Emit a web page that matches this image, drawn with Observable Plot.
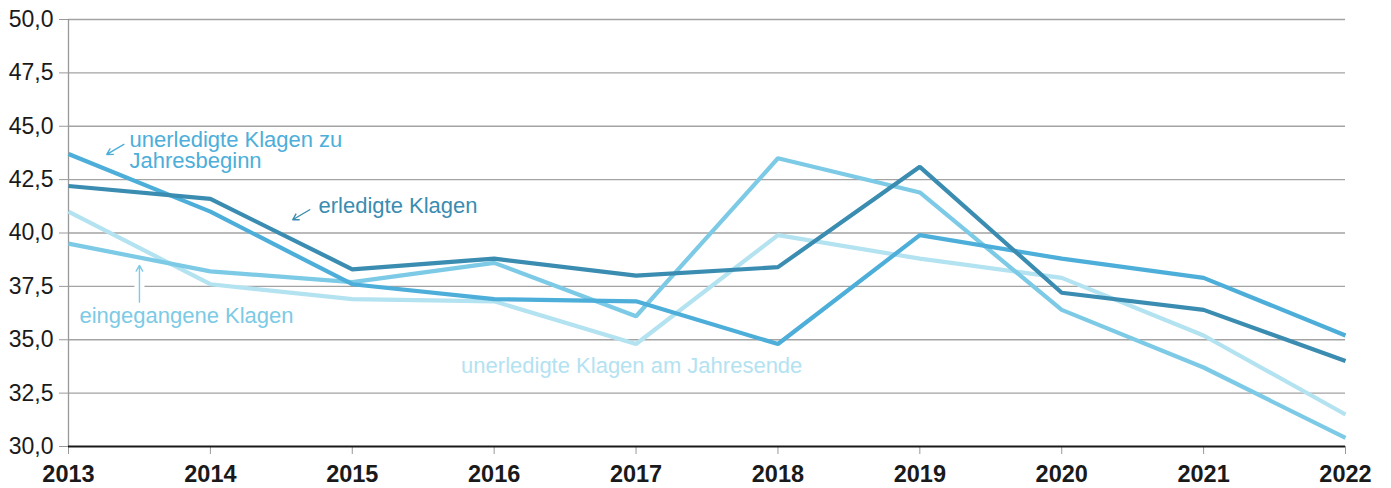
<!DOCTYPE html>
<html>
<head>
<meta charset="utf-8">
<script src="https://cdn.jsdelivr.net/npm/d3@7"></script>
<script src="https://cdn.jsdelivr.net/npm/@observablehq/plot@0.6"></script>
<style>
  html, body { margin: 0; padding: 0; background: #fff; }
  #chart svg { display: block; }
  g[aria-label="x-axis tick label"] text { font-weight: bold; }
</style>
</head>
<body>
<div id="chart"></div>
<script>
const years = [2013, 2014, 2015, 2016, 2017, 2018, 2019, 2020, 2021, 2022];
const beginn   = [43.7, 41.0, 37.6, 36.9, 36.8, 34.8, 39.9, 38.8, 37.9, 35.2];
const ende     = [41.0, 37.6, 36.9, 36.8, 34.8, 39.9, 38.8, 37.9, 35.2, 31.5];
const erledigt = [42.2, 41.6, 38.3, 38.8, 38.0, 38.4, 43.1, 37.2, 36.4, 34.0];
const eingang  = [39.5, 38.2, 37.7, 38.6, 36.1, 43.5, 41.9, 36.4, 33.7, 30.4];

const seriesNames  = ["unerledigte Klagen am Jahresende", "eingegangene Klagen", "unerledigte Klagen zu Jahresbeginn", "erledigte Klagen"];
const seriesValues = [ende, eingang, beginn, erledigt];
const seriesColors = ["#b3e2f1", "#7ccae5", "#4caed9", "#3a8cb1"];

const yTickValues = [30, 32.5, 35, 37.5, 40, 42.5, 45, 47.5, 50];

// annotations (data coordinates)
const annoLabels = ["unerledigte Klagen zu\nJahresbeginn", "erledigte Klagen", "eingegangene Klagen", "unerledigte Klagen am Jahresende"];
const annoX      = [2013.43, 2014.762, 2013.077, 2015.767];
const annoY      = [43.84, 41.24, 36.10, 33.73];
const annoColors = ["#4caed9", "#3a8cb1", "#7ccae5", "#b3e2f1"];

const arrowX1 = [2013.39, 2014.70, 2013.50];
const arrowY1 = [44.15, 41.09, 36.76];
const arrowX2 = [2013.27, 2014.58, 2013.50];
const arrowY2 = [43.68, 40.62, 38.48];
const arrowColors = ["#4caed9", "#3a8cb1", "#7ccae5"];

const series = seriesNames.map((name, i) => ({
  name, color: seriesColors[i],
  data: years.map((year, j) => ({year, value: seriesValues[i][j]}))
}));
const annos = annoLabels.map((label, i) => ({label, x: annoX[i], y: annoY[i], color: annoColors[i]}));
const arrows = arrowX1.map((x1, i) => ({x1, y1: arrowY1[i], x2: arrowX2[i], y2: arrowY2[i], color: arrowColors[i]}));

const fmt = d => d.toFixed(1).replace(".", ",");

const chart = Plot.plot({
  width: 1391,
  height: 488,
  marginLeft: 68,
  marginRight: 46,
  marginTop: 19,
  marginBottom: 42,
  style: {fontFamily: "'Liberation Sans', Arial, sans-serif", background: "#fff", color: "#1a1a1a"},
  x: {domain: [2013, 2022]},
  y: {domain: [30, 50]},
  marks: [
    Plot.ruleY(yTickValues.filter(d => d > 30), {stroke: "#a3a3a3", strokeWidth: 1.3}),
    Plot.ruleX([2013], {stroke: "#999", strokeWidth: 1.3}),
    Plot.axisY({ticks: yTickValues, tickFormat: fmt, tickSize: 9, tickPadding: 6, fontSize: 23, stroke: "#999", fill: "#1a1a1a"}),
    Plot.axisX({ticks: years, tickFormat: d => String(d), tickSize: 8, tickPadding: 11, fontSize: 23.5, fontWeight: "bold", stroke: "#999", fill: "#1a1a1a"}),
    Plot.link(arrows, {x1: "x1", y1: "y1", x2: "x2", y2: "y2", stroke: "#fff", strokeWidth: 10}),
    ...series.map(s => Plot.line(s.data, {x: "year", y: "value", stroke: s.color, strokeWidth: 4.2, strokeLinejoin: "miter", strokeLinecap: "butt"})),
    Plot.ruleY([30], {stroke: "#1a1a1a", strokeWidth: 2}),
    Plot.arrow(arrows, {x1: "x1", y1: "y1", x2: "x2", y2: "y2", stroke: "color", strokeWidth: 1.4, headLength: 7}),
    Plot.text(annos, {x: "x", y: "y", text: "label", fill: "color", textAnchor: "start", lineAnchor: "middle", lineHeight: 0.93, fontSize: 22})
  ]
});
document.getElementById("chart").append(chart);
</script>
</body>
</html>
